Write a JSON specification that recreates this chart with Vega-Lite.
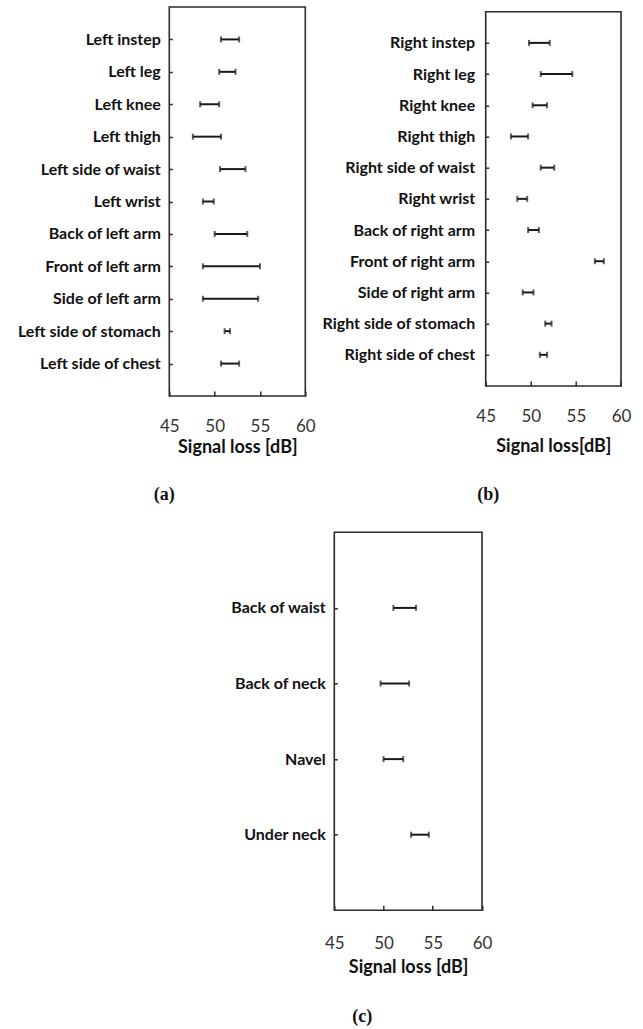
{
  "$schema": "https://vega.github.io/schema/vega-lite/v6.json",
  "autosize": {"type": "none"},
  "padding": {"left": 169.3, "top": 7, "right": 473.7, "bottom": 1022},
  "background": "white",
  "config": {
    "view": {"stroke": "#2b2b2b", "strokeWidth": 1.6},
    "axis": {"domain": false, "grid": false, "tickColor": "#2b2b2b", "tickWidth": 1.5, "labelFont": "Lato", "titleFont": "Lato", "labelOverlap": false},
    "axisX": {"tickSize": -5, "labelFontSize": 17, "labelColor": "#333333", "labelBaseline": "middle", "labelFlush": false, "titleFontSize": 18, "titleFontWeight": "bold", "titleColor": "#111111", "titleBaseline": "middle"},
    "axisY": {"tickSize": -3, "labelFontSize": 16, "labelFontWeight": "bold", "labelColor": "#111111"},
    "title": {"orient": "bottom", "frame": "group", "anchor": "middle", "font": "Liberation Serif", "fontWeight": "bold", "fontSize": 18, "color": "#111111", "baseline": "top"}
  },
  "datasets": {
    "a": [
      {"part": "Left instep", "lo": 50.7, "hi": 52.7},
      {"part": "Left leg", "lo": 50.5, "hi": 52.3},
      {"part": "Left knee", "lo": 48.4, "hi": 50.5},
      {"part": "Left thigh", "lo": 47.6, "hi": 50.7},
      {"part": "Left side of waist", "lo": 50.6, "hi": 53.4},
      {"part": "Left wrist", "lo": 48.7, "hi": 49.9},
      {"part": "Back of left arm", "lo": 50.0, "hi": 53.6},
      {"part": "Front of left arm", "lo": 48.7, "hi": 55.0},
      {"part": "Side of left arm", "lo": 48.7, "hi": 54.8},
      {"part": "Left side of stomach", "lo": 51.1, "hi": 51.7},
      {"part": "Left side of chest", "lo": 50.7, "hi": 52.7}
    ],
    "b": [
      {"part": "Right instep", "lo": 49.8, "hi": 52.1},
      {"part": "Right leg", "lo": 51.1, "hi": 54.6},
      {"part": "Right knee", "lo": 50.2, "hi": 51.8},
      {"part": "Right thigh", "lo": 47.8, "hi": 49.7},
      {"part": "Right side of waist", "lo": 51.1, "hi": 52.6},
      {"part": "Right wrist", "lo": 48.5, "hi": 49.6},
      {"part": "Back of right arm", "lo": 49.7, "hi": 50.9},
      {"part": "Front of right arm", "lo": 57.1, "hi": 58.1},
      {"part": "Side of right arm", "lo": 49.1, "hi": 50.3},
      {"part": "Right side of stomach", "lo": 51.6, "hi": 52.3},
      {"part": "Right side of chest", "lo": 51.0, "hi": 51.8}
    ],
    "c": [
      {"part": "Back of waist", "lo": 51.0, "hi": 53.3},
      {"part": "Back of neck", "lo": 49.7, "hi": 52.6},
      {"part": "Navel", "lo": 50.0, "hi": 52.0},
      {"part": "Under neck", "lo": 52.8, "hi": 54.6}
    ],
    "blank": [{"v": 0}]
  },
  "bounds": "flush",
  "spacing": 525.3,
  "vconcat": [
    {
      "bounds": "flush",
      "spacing": 180.4,
      "hconcat": [
        {
          "width": 136,
          "height": 389,
          "data": {"name": "a"},
          "title": {"text": "(a)", "dx": -73, "offset": 29},
          "encoding": {
            "y": {"field": "part", "type": "nominal", "sort": null, "scale": {"type": "point", "padding": 1}, "axis": {"title": null, "labelPadding": 12}}
          },
          "layer": [
            {"mark": {"type": "rule", "strokeWidth": 2, "color": "#1a1a1a"},
             "encoding": {"x": {"field": "lo", "type": "quantitative", "title": "Signal loss [dB]", "scale": {"domain": [45, 60], "zero": false, "nice": false}, "axis": {"values": [45, 50, 55, 60], "labelPadding": 35.5, "titlePadding": 13}}, "x2": {"field": "hi"}}},
            {"mark": {"type": "tick", "orient": "vertical", "size": 6, "thickness": 2, "color": "#1a1a1a"},
             "encoding": {"x": {"field": "lo", "type": "quantitative", "title": "Signal loss [dB]"}}},
            {"mark": {"type": "tick", "orient": "vertical", "size": 6, "thickness": 2, "color": "#1a1a1a"},
             "encoding": {"x": {"field": "hi", "type": "quantitative", "title": "Signal loss [dB]"}}}
          ]
        },
        {
          "bounds": "flush",
          "spacing": 3.7,
          "vconcat": [
            {"width": 1, "height": 1, "data": {"name": "blank"}, "mark": {"type": "point", "opacity": 0}, "encoding": {}, "view": {"stroke": null}},
            {
              "width": 135.3,
              "height": 374.3,
              "data": {"name": "b"},
              "title": {"text": "(b)", "dx": -65, "offset": 30},
              "encoding": {
                "y": {"field": "part", "type": "nominal", "sort": null, "scale": {"type": "point", "padding": 1}, "axis": {"title": null, "labelPadding": 14}}
              },
              "layer": [
                {"mark": {"type": "rule", "strokeWidth": 2, "color": "#1a1a1a"},
                 "encoding": {"x": {"field": "lo", "type": "quantitative", "title": "Signal loss[dB]", "scale": {"domain": [45, 60], "zero": false, "nice": false}, "axis": {"values": [45, 50, 55, 60], "labelPadding": 35.7, "titlePadding": 22}}, "x2": {"field": "hi"}}},
                {"mark": {"type": "tick", "orient": "vertical", "size": 6, "thickness": 2, "color": "#1a1a1a"},
                 "encoding": {"x": {"field": "lo", "type": "quantitative", "title": "Signal loss[dB]"}}},
                {"mark": {"type": "tick", "orient": "vertical", "size": 6, "thickness": 2, "color": "#1a1a1a"},
                 "encoding": {"x": {"field": "hi", "type": "quantitative", "title": "Signal loss[dB]"}}}
              ]
            }
          ]
        }
      ]
    },
    {
      "bounds": "flush",
      "spacing": 164,
      "hconcat": [
        {"width": 1, "height": 1, "data": {"name": "blank"}, "mark": {"type": "point", "opacity": 0}, "encoding": {}, "view": {"stroke": null}},
        {
          "width": 147.7,
          "height": 378,
          "data": {"name": "c"},
          "title": {"text": "(c)", "dx": -46, "offset": 32},
          "encoding": {
            "y": {"field": "part", "type": "nominal", "sort": null, "scale": {"type": "point", "padding": 1}, "axis": {"title": null, "labelPadding": 12}}
          },
          "layer": [
            {"mark": {"type": "rule", "strokeWidth": 2, "color": "#1a1a1a"},
             "encoding": {"x": {"field": "lo", "type": "quantitative", "title": "Signal loss [dB]", "scale": {"domain": [45, 60], "zero": false, "nice": false}, "axis": {"values": [45, 50, 55, 60], "labelPadding": 38, "titlePadding": 16}}, "x2": {"field": "hi"}}},
            {"mark": {"type": "tick", "orient": "vertical", "size": 6, "thickness": 2, "color": "#1a1a1a"},
             "encoding": {"x": {"field": "lo", "type": "quantitative", "title": "Signal loss [dB]"}}},
            {"mark": {"type": "tick", "orient": "vertical", "size": 6, "thickness": 2, "color": "#1a1a1a"},
             "encoding": {"x": {"field": "hi", "type": "quantitative", "title": "Signal loss [dB]"}}}
          ]
        }
      ]
    }
  ]
}
